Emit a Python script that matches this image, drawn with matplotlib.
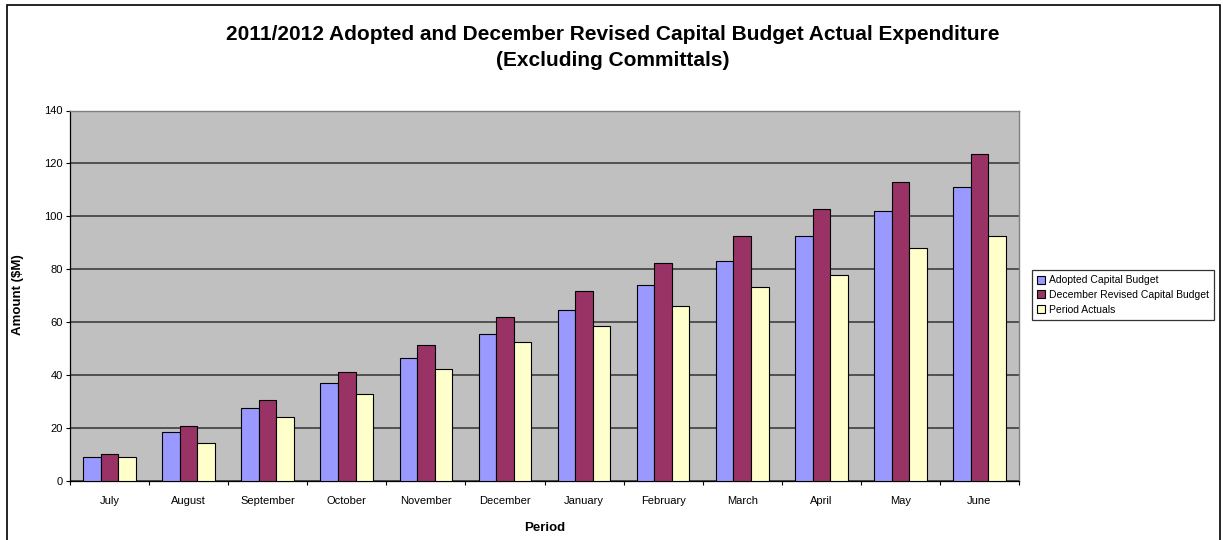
import matplotlib
matplotlib.use("Agg")
import matplotlib.pyplot as plt
from matplotlib.patches import Rectangle
import numpy as np

plt.rcParams['font.family'] = ['Liberation Sans', 'DejaVu Sans']

months = ["July", "August", "September", "October", "November", "December",
          "January", "February", "March", "April", "May", "June"]
adopted = [9.1, 18.7, 27.7, 37.0, 46.5, 55.5, 64.7, 74.2, 83.3, 92.4, 102.0, 111.2]
revised = [10.2, 20.6, 30.7, 41.1, 51.4, 61.8, 71.9, 82.3, 92.4, 102.9, 113.0, 123.6]
actuals = [9.1, 14.4, 24.2, 33.0, 42.2, 52.4, 58.4, 66.0, 73.2, 77.7, 88.2, 92.5]
series_names = ["Adopted Capital Budget", "December Revised Capital Budget", "Period Actuals"]
yticks = [0, 20, 40, 60, 80, 100, 120, 140]

colors = ["#9999FF", "#993366", "#FFFFCC"]

W, H = 1223, 540
fig = plt.figure(figsize=(W / 100, H / 100), dpi=100)

# outer chart frame
fig.patches.append(Rectangle((7 / W, -0.05), (1220 - 7) / W, 1.05 - 5 / H,
                             transform=fig.transFigure, fill=False,
                             edgecolor="black", linewidth=1.2, zorder=0))

left, right, top, bottom = 70, 1019, 110.5, 481
ax = fig.add_axes([left / W, 1 - bottom / H, (right - left) / W, (bottom - top) / H])
ax.set_facecolor("#C0C0C0")

x = np.arange(len(months))
w = 1 / 4.5
for i, (vals, c, name) in enumerate(zip([adopted, revised, actuals], colors, series_names)):
    ax.bar(x + (i - 1) * w, vals, width=w, color=c, edgecolor="black",
           linewidth=0.8, label=name, zorder=3)

ax.set_xlim(-0.5, len(months) - 0.5)
ax.set_ylim(0, 140)
ax.set_yticks(yticks)
ax.set_yticklabels([str(t) for t in yticks], fontsize=8)
ax.yaxis.grid(True, color="#333333", linewidth=1.1, zorder=1)
ax.set_axisbelow(True)

ax.set_xticks(x)
ax.set_xticklabels(months, fontsize=8)
ax.set_xticks(np.arange(-0.5, len(months)), minor=True)
ax.tick_params(axis="x", which="major", length=0, pad=11)
ax.tick_params(axis="x", which="minor", length=3, width=0.8, direction="out")
ax.tick_params(axis="y", length=3, width=0.8, direction="out", pad=2)

for s in ["top", "right"]:
    ax.spines[s].set_color("#808080")
    ax.spines[s].set_linewidth(1.0)
for s in ["left", "bottom"]:
    ax.spines[s].set_color("black")
    ax.spines[s].set_linewidth(0.9)

fig.text(613 / W, 1 - 34 / H,
         "2011/2012 Adopted and December Revised Capital Budget Actual Expenditure",
         ha="center", va="center", fontsize=15, fontweight="bold")
fig.text(613 / W, 1 - 61 / H, "(Excluding Committals)",
         ha="center", va="center", fontsize=15, fontweight="bold")

fig.text(18 / W, 1 - 295 / H, "Amount ($M)", rotation=90, ha="center", va="center",
         fontsize=9.5, fontweight="bold")
fig.text((left + right) / 2 / W, 1 - 528 / H, "Period", ha="center", va="center",
         fontsize=9.5, fontweight="bold")

leg = fig.legend(loc="center", bbox_to_anchor=(1123 / W, 1 - 295 / H),
                 fontsize=7.5, frameon=True, fancybox=False, handlelength=0.8,
                 handleheight=0.8, handletextpad=0.4, borderpad=0.5,
                 labelspacing=0.45)
leg.get_frame().set_edgecolor("black")
leg.get_frame().set_linewidth(0.9)

fig.savefig("out.png", dpi=100)
